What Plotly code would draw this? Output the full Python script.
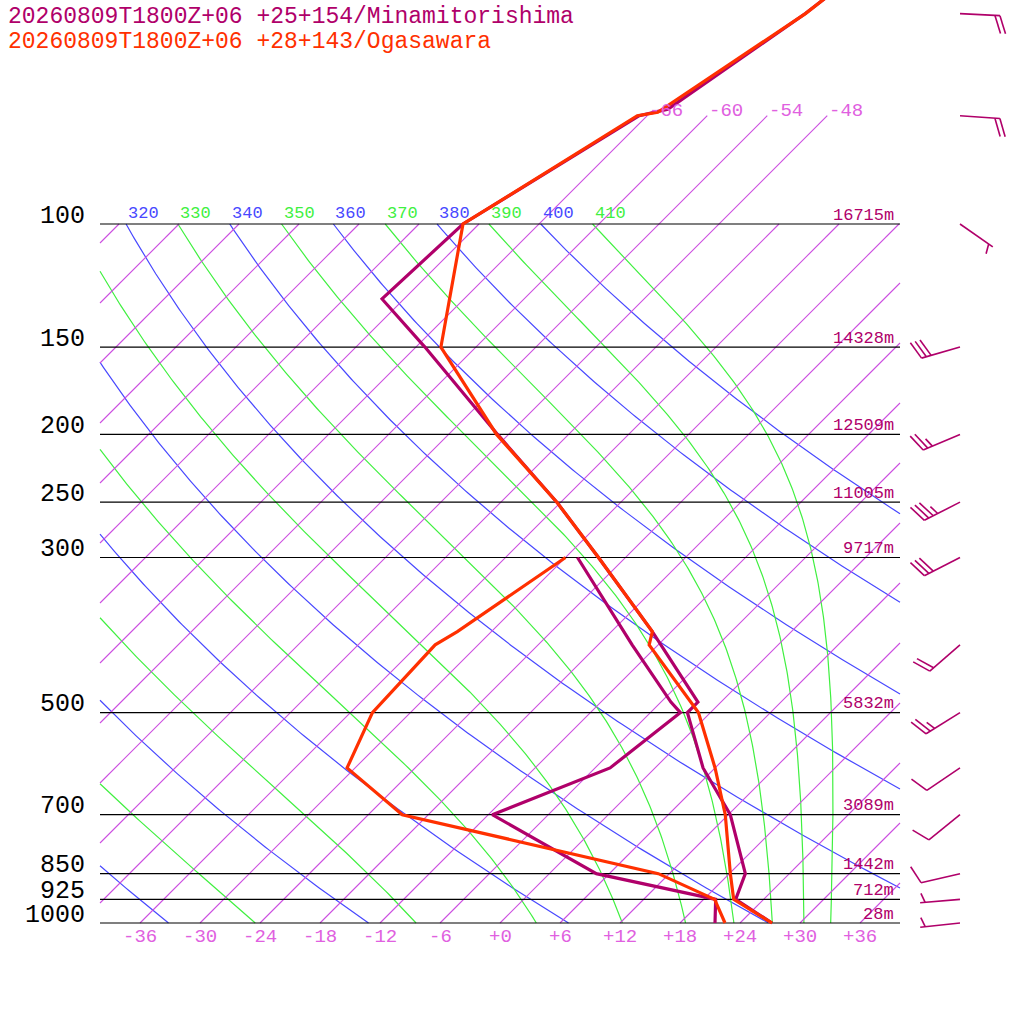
import numpy as np
import plotly.graph_objects as go

# profiles: pressure (hPa), temperature / dew point (degC)
mt_t_p = [1000, 925, 850, 700, 600, 500, 483, 383, 300, 250, 200, 150, 128, 100, 70, 68.5, 50, 30]
mt_t = [27.2, 21.2, 19.6, 12.2, 4.8, -2.3, -2.3, -13.9, -26.7, -36.4, -49.1, -65.1, -74.2, -73.6, -66.8, -64.6, -60.4, -56.0]
mt_td_p = [1000, 925, 850, 700, 600, 500, 483, 400, 300]
mt_td = [21.5, 19.2, 4.7, -11.6, -4.5, -3.0, -5.0, -14.6, -28.8]

og_t_p = [1000, 925, 850, 700, 600, 500, 400, 383, 300, 250, 200, 150, 100, 70, 69.2, 50, 30]
og_t = [27.2, 21.0, 18.1, 11.7, 6.0, -1.2, -12.9, -13.9, -26.7, -36.4, -49.2, -63.5, -73.6, -67.0, -65.3, -60.4, -56.0]
og_td_p = [1000, 925, 850, 700, 600, 500, 400, 383, 300]
og_td = [22.5, 19.1, 10.9, -20.6, -30.8, -33.8, -34.3, -33.4, -30.0]

# winds at Minamitorishima (direction deg, speed kt)
wind_p = [50, 70, 100, 150, 200, 250, 300, 400, 500, 600, 700, 850, 925, 1000]
wind_dir = [93, 94, 125, 254, 247, 243, 243, 229, 238, 236, 231, 257, 265, 264]
wind_kt = [20, 20, 5, 30, 25, 35, 30, 20, 25, 10, 10, 10, 5, 5]

# standard levels and their heights
levels = [100, 150, 200, 250, 300, 500, 700, 850, 925, 1000]
heights = ["16715m", "14328m", "12509m", "11005m", "9717m", "5832m", "3089m", "1442m", "712m", "28m"]

title1 = "20260809T1800Z+06 +25+154/Minamitorishima"
title2 = "20260809T1800Z+06 +28+143/Ogasawara"

isotherms = list(range(-108, 37, 6))
top_isotherms = [-66, -60, -54, -48]
bottom_ticks = list(range(-36, 37, 6))
dry_thetas = list(range(200, 401, 20))
moist_thetas = list(range(230, 411, 20))

COL_MT = "#b0006a"
COL_OG = "#ff3000"
COL_ISO = "#cc4ee0"
COL_ISO_TXT = "#e060e0"
COL_DRY = "#4848ff"
COL_WET = "#40f040"
MONO = "Liberation Mono"

# skew-T geometry: 10 px per degC, 699 px between 1000 and 100 hPa, 45 deg skew
PX_DEG = 10.0
PX_LN = 699.0 / np.log(10.0)
SKEW = PX_LN / PX_DEG
P_TOP = 1000 * np.exp(-923 / PX_LN)
P_BOT = 1000 * np.exp(101 / PX_LN)
XMIN, XMAX = -40.0, 40.0

Rd, Cp, Lv, eps = 287.04, 1005.7, 2.501e6, 0.622
kappa = Rd / Cp


def skx(t, p):
    return np.asarray(t, float) + SKEW * np.log(1000.0 / np.asarray(p, float))


def clip_box(xv, pv):
    # keep the parts of a curve inside XMIN..XMAX
    lp = np.log(pv)
    ox, op = [], []
    for i in range(len(xv) - 1):
        x0, x1, l0, l1 = xv[i], xv[i + 1], lp[i], lp[i + 1]
        in0 = XMIN <= x0 <= XMAX
        in1 = XMIN <= x1 <= XMAX
        if in0:
            ox.append(x0)
            op.append(np.exp(l0))
        if in0 != in1:
            b = XMIN if (x0 < XMIN or x1 < XMIN) else XMAX
            t = (b - x0) / (x1 - x0)
            ox.append(b)
            op.append(np.exp(l0 + t * (l1 - l0)))
            if in0:
                ox.append(None)
                op.append(None)
    if XMIN <= xv[-1] <= XMAX:
        ox.append(xv[-1])
        op.append(pv[-1])
    return ox + [None], op + [None]


def moist_curve(theta):
    # pseudo-adiabat through T = theta*(0.1)^kappa at 100 hPa, integrated down
    def f(tk, lnp):
        p = np.exp(lnp)
        tc = tk - 273.15
        es = 6.112 * np.exp(17.67 * tc / (tc + 243.5))
        rs = eps * es / (p - es)
        return (Rd * tk + Lv * rs) / (Cp + Lv * Lv * rs * eps / (Rd * tk * tk))
    lnps = np.linspace(np.log(100), np.log(1000), 240)
    h = lnps[1] - lnps[0]
    tk = theta * 0.1 ** kappa
    out = [tk]
    for lp in lnps[:-1]:
        k1 = f(tk, lp)
        k2 = f(tk + h * k1 / 2, lp + h / 2)
        k3 = f(tk + h * k2 / 2, lp + h / 2)
        k4 = f(tk + h * k3, lp + h)
        tk = tk + h * (k1 + 2 * k2 + 2 * k3 + k4) / 6
        out.append(tk)
    ps = np.exp(lnps)
    return skx(np.array(out) - 273.15, ps), ps


fig = go.Figure()

# dry adiabats
pp = np.geomspace(1000, 100, 240)
xs, ys = [], []
for th in dry_thetas:
    cx, cp = clip_box(skx(th * (pp / 1000) ** kappa - 273.15, pp), pp)
    xs += cx
    ys += cp
fig.add_trace(go.Scatter(x=xs, y=ys, mode="lines", line=dict(color=COL_DRY, width=1.2),
                         hoverinfo="skip"))

# moist adiabats
xs, ys = [], []
for th in moist_thetas:
    cx, cp = clip_box(*moist_curve(th))
    xs += cx
    ys += cp
fig.add_trace(go.Scatter(x=xs, y=ys, mode="lines", line=dict(color=COL_WET, width=1.2),
                         hoverinfo="skip"))

# isotherms, clipped to the box (a few reach 70 hPa)
xs, ys = [], []
for t in isotherms:
    umax = np.log(1000 / 70.0) if t in top_isotherms else np.log(10.0)
    u0 = max(0.0, (XMIN - t) / SKEW)
    u1 = min(umax, (XMAX - t) / SKEW)
    if u1 <= u0:
        continue
    xs += [t + SKEW * u0, t + SKEW * u1, None]
    ys += [1000 * np.exp(-u0), 1000 * np.exp(-u1), None]
fig.add_trace(go.Scatter(x=xs, y=ys, mode="lines", line=dict(color=COL_ISO, width=1.1),
                         hoverinfo="skip"))

# pressure lines
xs, ys = [], []
for p in levels:
    xs += [XMIN, XMAX, None]
    ys += [p, p, None]
fig.add_trace(go.Scatter(x=xs, y=ys, mode="lines", line=dict(color="black", width=1.2),
                         hoverinfo="skip"))

# soundings
for pr, tt, col in [(mt_t_p, mt_t, COL_MT), (mt_td_p, mt_td, COL_MT),
                    (og_t_p, og_t, COL_OG), (og_td_p, og_td, COL_OG)]:
    fig.add_trace(go.Scatter(x=skx(tt, pr), y=pr, mode="lines",
                             line=dict(color=col, width=3.2), hoverinfo="skip"))

# wind barbs (pixel lengths converted through the axis scales)
X0 = 46.0
STAFF, FULL, HALF, STEP = 40.0, 19.0, 10.0, 5.0
rot = np.radians(70)
bx, by = [], []
for p0, wd, sp in zip(wind_p, wind_dir, wind_kt):
    a = np.radians(wd)
    ux, uy = np.sin(a), -np.cos(a)
    vx = ux * np.cos(rot) - uy * np.sin(rot)
    vy = ux * np.sin(rot) + uy * np.cos(rot)

    def pt(dx, dy):
        return X0 + dx / PX_DEG, p0 * np.exp(dy / PX_LN)
    segs = [((0, 0), (STAFF * ux, STAFF * uy))]
    nfull = sp // 10
    d = STAFF
    for k in range(nfull):
        segs.append(((d * ux, d * uy), (d * ux + FULL * vx, d * uy + FULL * vy)))
        d -= STEP
    if sp % 10 >= 5:
        if nfull == 0:
            d -= STEP
        segs.append(((d * ux, d * uy), (d * ux + HALF * vx, d * uy + HALF * vy)))
    for s, e in segs:
        x1, y1 = pt(*s)
        x2, y2 = pt(*e)
        bx += [x1, x2, None]
        by += [y1, y2, None]
fig.add_trace(go.Scatter(x=bx, y=by, mode="lines", line=dict(color=COL_MT, width=1.6),
                         hoverinfo="skip"))

ann = []
# left pressure labels
for p in levels:
    ann.append(dict(x=-41.3, y=np.log10(p), text=str(p),
                    xanchor="right", yanchor="middle", yshift=8, showarrow=False,
                    font=dict(family=MONO, size=25, color="black")))
# heights
for p, h in zip(levels, heights):
    ann.append(dict(x=39.6, y=np.log10(p), text=h,
                    xanchor="right", yanchor="middle", yshift=9, showarrow=False,
                    font=dict(family=MONO, size=17, color=COL_MT)))
# bottom temperature labels
for t in bottom_ticks:
    ann.append(dict(x=t, y=3, text=("%+d" % t),
                    xanchor="center", yanchor="middle", yshift=-14, showarrow=False,
                    font=dict(family=MONO, size=19, color=COL_ISO_TXT)))
# isotherm labels at 70 hPa
for t in top_isotherms:
    ann.append(dict(x=float(skx(t, 70)), y=np.log10(70),
                    text=("%+d" % t), xanchor="left", yanchor="middle", yshift=5,
                    showarrow=False, font=dict(family=MONO, size=19, color=COL_ISO_TXT)))
# theta labels at 100 hPa
for th, col in [(t, COL_DRY) for t in dry_thetas] + [(t, COL_WET) for t in moist_thetas]:
    xl = float(skx(th * 0.1 ** kappa - 273.15, 100))
    if xl < XMIN or xl > XMAX:
        continue
    ann.append(dict(x=xl, y=2, text=str(th),
                    xanchor="left", yanchor="middle", yshift=11, showarrow=False,
                    font=dict(family=MONO, size=17, color=col)))
# titles
ann.append(dict(x=6 / 1024, y=1 - 17 / 1024, xref="paper", yref="paper", text=title1,
                xanchor="left", yanchor="middle", showarrow=False,
                font=dict(family=MONO, size=23, color=COL_MT)))
ann.append(dict(x=6 / 1024, y=1 - 42 / 1024, xref="paper", yref="paper", text=title2,
                xanchor="left", yanchor="middle", showarrow=False,
                font=dict(family=MONO, size=23, color=COL_OG)))

hidden = dict(visible=False, showgrid=False, zeroline=False, fixedrange=True)
fig.update_layout(
    width=1024, height=1024, margin=dict(l=0, r=0, t=0, b=0),
    paper_bgcolor="white", plot_bgcolor="white", showlegend=False,
    annotations=ann,
    xaxis=dict(range=[-50, 52.4], **hidden),
    yaxis=dict(type="log", range=[np.log10(P_BOT), np.log10(P_TOP)], **hidden),
)

fig.write_html("out.html", config={"displayModeBar": False},
               post_script="document.body.style.margin='0px';")
